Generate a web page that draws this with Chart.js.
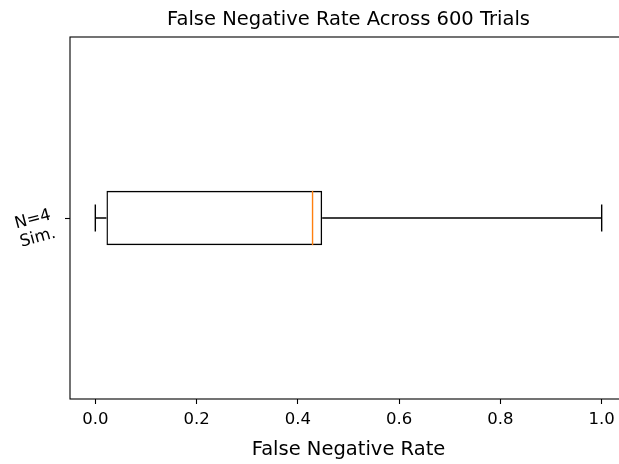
<!DOCTYPE html>
<html lang="en">
<head>
    <meta charset="UTF-8">
    <title>False Negative Rate Across 600 Trials</title>
    <script src="https://cdn.jsdelivr.net/npm/chart.js"></script>
    <style>
        body {
            margin: 0;
            overflow: hidden;
            background: #fff;
        }
        #wrap {
            width: 640px;
            height: 464px;
        }
    </style>
</head>
<body>
    <div id="wrap"><canvas id="boxChart" width="640" height="464"></canvas></div>

    <script>
        // box plot stats
        const categories = [["N=4", "Sim."]];
        const whiskerLow = [0.0];
        const q1 = [0.022];
        const median = [0.429];
        const q3 = [0.448];
        const whiskerHigh = [1.0];
        const xTicks = [0.0, 0.2, 0.4, 0.6, 0.8, 1.0];

        const font = "'DejaVu Sans', sans-serif";

        // whiskers, caps, median line and the frame
        const boxParts = {
            id: "boxParts",
            afterDatasetsDraw(chart) {
                const ctx = chart.ctx;
                const xs = chart.scales.x;
                const meta = chart.getDatasetMeta(0);
                ctx.save();
                meta.data.forEach((bar, i) => {
                    const y = bar.y;
                    const cap = bar.height / 4;
                    const xLo = xs.getPixelForValue(whiskerLow[i]);
                    const xQ1 = xs.getPixelForValue(q1[i]);
                    const xQ3 = xs.getPixelForValue(q3[i]);
                    const xHi = xs.getPixelForValue(whiskerHigh[i]);
                    const xMed = xs.getPixelForValue(median[i]);

                    ctx.strokeStyle = "#000";
                    ctx.lineWidth = 1.4;
                    ctx.beginPath();
                    ctx.moveTo(xLo, y); ctx.lineTo(xQ1, y);
                    ctx.moveTo(xQ3, y); ctx.lineTo(xHi, y);
                    ctx.moveTo(xLo, y - cap); ctx.lineTo(xLo, y + cap);
                    ctx.moveTo(xHi, y - cap); ctx.lineTo(xHi, y + cap);
                    ctx.stroke();

                    ctx.strokeStyle = "#ff7f0e";
                    ctx.beginPath();
                    ctx.moveTo(xMed, y - bar.height / 2);
                    ctx.lineTo(xMed, y + bar.height / 2);
                    ctx.stroke();
                });
                const a = chart.chartArea;
                ctx.strokeStyle = "#000";
                ctx.lineWidth = 1.1;
                ctx.strokeRect(a.left, a.top, a.right - a.left, a.bottom - a.top);
                ctx.restore();
            }
        };

        const ctx = document.getElementById("boxChart").getContext("2d");

        new Chart(ctx, {
            type: "bar",
            data: {
                labels: categories,
                datasets: [{
                    data: q1.map((v, i) => [v, q3[i]]),
                    backgroundColor: "rgba(0,0,0,0)",
                    borderColor: "#000",
                    borderWidth: 1.4,
                    borderSkipped: false,
                    categoryPercentage: 1,
                    barPercentage: 0.15
                }]
            },
            plugins: [boxParts],
            options: {
                indexAxis: "y",
                responsive: false,
                devicePixelRatio: 1,
                animation: false,
                layout: { padding: { left: 0, right: 13, top: 0, bottom: 0 } },
                plugins: {
                    legend: { display: false },
                    tooltip: { enabled: false },
                    title: {
                        display: true,
                        fullSize: false,
                        text: "False Negative Rate Across 600 Trials",
                        color: "#000",
                        font: { family: font, size: 19.5, weight: "normal", lineHeight: 1.2 },
                        padding: { top: 8, bottom: 5.6 }
                    }
                },
                scales: {
                    x: {
                        type: "linear",
                        min: -0.05,
                        max: 1.05,
                        afterBuildTicks: (scale) => {
                            scale.ticks = xTicks.map(v => ({ value: v }));
                        },
                        afterFit: (scale) => { scale.height = 65; },
                        border: { display: false },
                        grid: {
                            drawOnChartArea: false,
                            drawTicks: true,
                            tickLength: 5,
                            color: "#000",
                            tickWidth: 1.1
                        },
                        ticks: {
                            color: "#000",
                            padding: 6,
                            maxRotation: 0,
                            font: { family: font, size: 16.5 },
                            callback: (v) => Number(v).toFixed(1)
                        },
                        title: {
                            display: true,
                            text: "False Negative Rate",
                            color: "#000",
                            font: { family: font, size: 19.5 },
                            padding: { top: 4, bottom: 2 }
                        }
                    },
                    y: {
                        type: "category",
                        afterFit: (scale) => { scale.width = 70; },
                        border: { display: false },
                        grid: {
                            offset: false,
                            drawOnChartArea: false,
                            drawTicks: true,
                            tickLength: 5,
                            color: "#000",
                            tickWidth: 1.1
                        },
                        ticks: {
                            color: "#000",
                            padding: 12,
                            labelOffset: 6,
                            minRotation: 15,
                            maxRotation: 15,
                            font: { family: font, size: 16.5, lineHeight: 1.15 }
                        }
                    }
                }
            }
        });
    </script>
</body>
</html>
